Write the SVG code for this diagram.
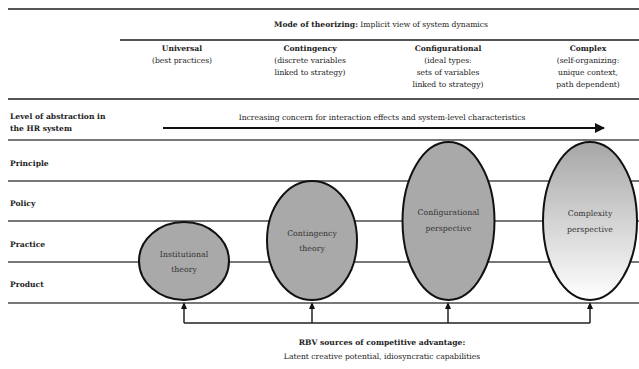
<svg xmlns="http://www.w3.org/2000/svg" width="639" height="369" viewBox="0 0 639 369">
<style>
text{font-family:"DejaVu Serif","Liberation Serif",serif;font-size:7.6px;fill:#222}
.b{font-weight:bold}
.c{text-anchor:middle}
.rule{stroke:#555;stroke-width:2}
.grid{stroke:#777;stroke-width:2}
.node{stroke:#111;stroke-width:2;fill:#a9a9a9}
.nt{font-size:7.8px;fill:#333;text-anchor:middle}
.con{stroke:#222;stroke-width:1.5;fill:none}
</style>
<defs>
<linearGradient id="g" x1="0" y1="0" x2="0" y2="1">
<stop offset="0" stop-color="#a6a6a6"/>
<stop offset="1" stop-color="#ffffff"/>
</linearGradient>
<marker id="ah" viewBox="0 0 10 10" refX="9" refY="5" markerWidth="5" markerHeight="5" orient="auto">
<path d="M0,0 L10,5 L0,10 z" fill="#111"/>
</marker>
</defs>
<g id="table">
<line class="rule" x1="8" y1="9" x2="639" y2="9"/>
<line class="rule" x1="120" y1="40" x2="639" y2="40"/>
<line class="rule" x1="8" y1="99" x2="639" y2="99"/>
<line class="grid" x1="8" y1="140" x2="639" y2="140"/>
<line class="grid" x1="8" y1="181" x2="639" y2="181"/>
<line class="grid" x1="8" y1="221" x2="639" y2="221"/>
<line class="grid" x1="8" y1="262" x2="639" y2="262"/>
<line class="grid" x1="8" y1="303" x2="639" y2="303"/>
<text x="381" y="27" class="c"><tspan class="b">Mode of theorizing:</tspan> Implicit view of system dynamics</text>
<text x="182" y="51" class="c b">Universal</text>
<text x="182" y="63" class="c">(best practices)</text>
<text x="310" y="51" class="c b">Contingency</text>
<text x="310" y="63" class="c">(discrete variables</text>
<text x="310" y="75" class="c">linked to strategy)</text>
<text x="448" y="51" class="c b">Configurational</text>
<text x="448" y="63" class="c">(ideal types:</text>
<text x="448" y="75" class="c">sets of variables</text>
<text x="448" y="87" class="c">linked to strategy)</text>
<text x="588" y="51" class="c b">Complex</text>
<text x="588" y="63" class="c">(self-organizing:</text>
<text x="588" y="75" class="c">unique context,</text>
<text x="588" y="87" class="c">path dependent)</text>
<text x="10" y="119" class="b">Level of abstraction in</text>
<text x="10" y="131" class="b">the HR system</text>
<text x="382" y="120" class="c">Increasing concern for interaction effects and system-level characteristics</text>
<line x1="163" y1="128" x2="604" y2="128" stroke="#111" stroke-width="2" marker-end="url(#ah)"/>
<text x="10" y="166" class="b">Principle</text>
<text x="10" y="206" class="b">Policy</text>
<text x="10" y="247" class="b">Practice</text>
<text x="10" y="287" class="b">Product</text>
<text x="382" y="345" class="c b">RBV sources of competitive advantage:</text>
<text x="382" y="359" class="c">Latent creative potential, idiosyncratic capabilities</text>
</g>
<g id="connectors">
<path class="con" d="M184,323 H590 M184,323 V304 M312,323 V304 M448,323 V304 M590,323 V304" />
<path d="M184,302 l-3,7 h6 z M312,302 l-3,7 h6 z M448,302 l-3,7 h6 z M590,302 l-3,7 h6 z" fill="#111"/>
</g>
<g id="institutional">
<ellipse class="node" cx="184" cy="261" rx="45" ry="39"/>
<text class="nt" x="184" y="257">Institutional</text>
<text class="nt" x="184" y="272">theory</text>
</g>
<g id="contingency">
<ellipse class="node" cx="312" cy="240.5" rx="45" ry="59.5"/>
<text class="nt" x="312" y="236">Contingency</text>
<text class="nt" x="312" y="251">theory</text>
</g>
<g id="configurational">
<ellipse class="node" cx="448.5" cy="221" rx="46" ry="79"/>
<text class="nt" x="448.5" y="215">Configurational</text>
<text class="nt" x="448.5" y="231">perspective</text>
</g>
<g id="complexity">
<ellipse class="node" cx="590" cy="221" rx="47" ry="79" fill="url(#g)" style="fill:url(#g)"/>
<text class="nt" x="590" y="216">Complexity</text>
<text class="nt" x="590" y="232">perspective</text>
</g>
</svg>
